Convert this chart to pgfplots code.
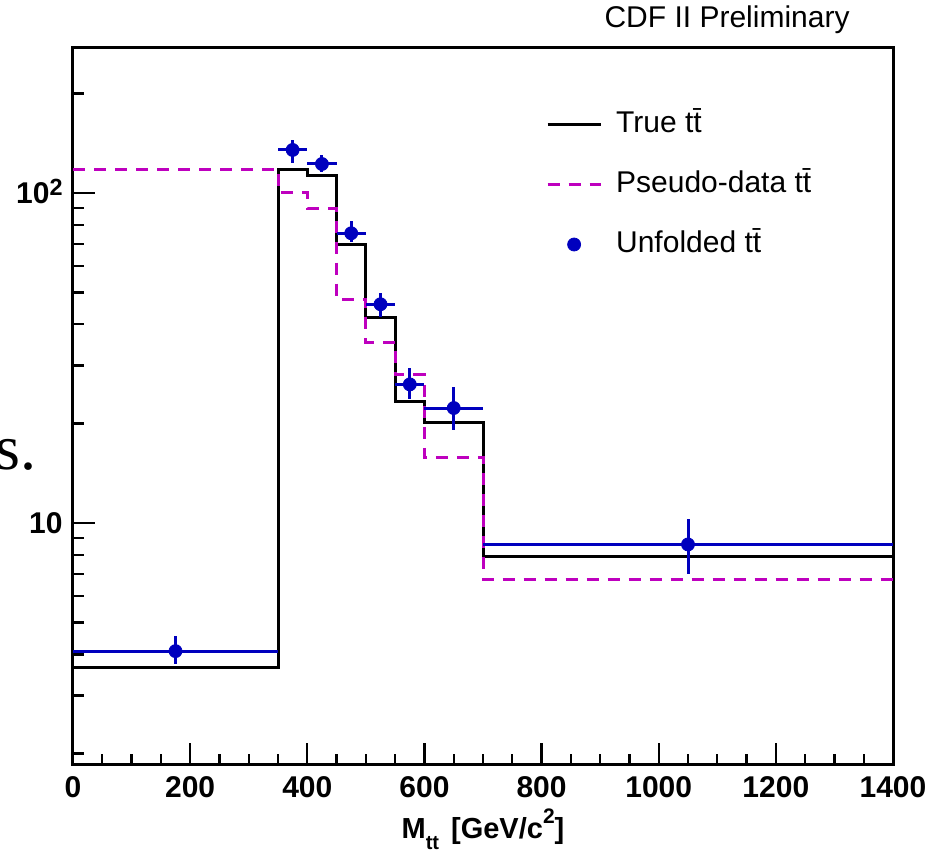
\documentclass[border=0pt]{standalone}
\usepackage{pgfplots}
\pgfplotsset{compat=1.18}
\usepackage{fontspec}
\setmainfont{Liberation Sans}
\newfontfamily\serifnote{Liberation Serif}
\definecolor{rootblue}{RGB}{0,0,190}
\definecolor{rootmag}{RGB}{190,0,190}
\newcommand\ttb{t\={t}}
\pgfplotsset{
  linelegend/.style={legend image code/.code={\draw[##1] (0bp,0bp) -- (26.5bp,0bp);}},
  marklegend/.style={legend image code/.code={\draw[##1] plot coordinates {(13.25bp,0bp)};}},
}

\pgfplotstableread{
x    y      ex   eyp   eym
175  4.09   175  0.46  0.36
375  135    25   10    11.5
425  122.4  25   8     7
475  75.5   25   6.9   4.5
525  46     25   3.9   3.8
575  26.3   25   3.1   2.6
650  22.3   50   3.6   3.1
1050 8.61   350  1.7   1.6
}\unfolded

\begin{document}
\begin{tikzpicture}
\useasboundingbox (-36.5bp,-44bp) rectangle (429.5bp,382.5bp);
\begin{axis}[
  at={(0,0)}, anchor=south west,
  scale only axis, width=410bp, height=358.5bp,
  ymode=log, xmin=0, xmax=1400, ymin=1.848, ymax=275,
  axis line style={line width=1.5bp},
  xtick={0,200,...,1400}, xticklabels={0,200,400,600,800,1000,1200,1400},
  minor x tick num=3,
  ytick={10,100}, yticklabels={10,10\raisebox{3.9bp}{\fontsize{11.7bp}{12bp}\selectfont 2}},
  minor ytick={2,3,4,5,6,7,8,9,20,30,40,50,60,70,80,90,200},
  tick pos=left, tick align=inside,
  major tick length=11bp, minor tick length=5.5bp,
  every tick/.style={line width=1.2bp, black},
  tick label style={font=\fontsize{15bp}{18bp}\selectfont\bfseries, inner sep=0pt},
  xticklabel style={anchor=base, yshift=-16.5bp},
  yticklabel style={anchor=base east, xshift=-5bp, yshift=-5.4bp},
  xlabel={M\raisebox{-5.5bp}{\fontsize{10bp}{12bp}\selectfont\bfseries tt}\hspace{6bp}[GeV/c\raisebox{7.8bp}{\fontsize{10.5bp}{12bp}\selectfont 2}]},
  xlabel style={font=\fontsize{14.5bp}{17bp}\selectfont\bfseries, at={(axis description cs:0.5,0)}, anchor=base, yshift=-37bp, inner sep=0pt},
  legend style={at={(axis description cs:0.577,0.9135)}, anchor=north west, draw=none, fill=none, inner sep=0pt, outer sep=0pt,
    row sep=15.5bp, column sep=7bp, font=\fontsize{15bp}{18bp}\selectfont,
    nodes={inner sep=0pt, text height=11bp, text depth=3.5bp}},
  legend cell align=left,
]
\addplot[const plot, black, line width=1.5bp, linelegend]
  coordinates {(0,3.64) (350,118) (400,113) (450,70) (500,41.8) (550,23.3) (600,20.1) (700,7.94) (1400,7.94)};
\addlegendentry{True \ttb}
\addplot[const plot, rootmag, line width=1.5bp, dash pattern=on 6bp off 4.5bp, linelegend]
  coordinates {(0,118) (350,100.5) (400,89.9) (450,47.7) (500,35.3) (550,28.1) (600,15.8) (700,6.74) (1400,6.74)};
\addlegendentry{Pseudo-data \ttb}
\addplot[only marks, mark=*, mark size=3.25bp, rootblue, mark options={fill=rootblue, draw=rootblue}, marklegend,
  error bars/.cd, x dir=both, x explicit, y dir=both, y explicit, error mark=none,
  error bar style={line width=1.5bp, rootblue}]
  table[x=x, y=y, x error=ex, y error plus=eyp, y error minus=eym] {\unfolded};
\addlegendentry{Unfolded \ttb}
\end{axis}
\node[anchor=base east, inner sep=0pt, font=\fontsize{15bp}{18bp}\selectfont] at (388.5bp,368.5bp) {CDF II Preliminary};
\node[anchor=base east, inner sep=0pt, font=\serifnote\fontsize{32bp}{36bp}\selectfont] at (-18.25bp,147.5bp) {es.};
\end{tikzpicture}
\end{document}
